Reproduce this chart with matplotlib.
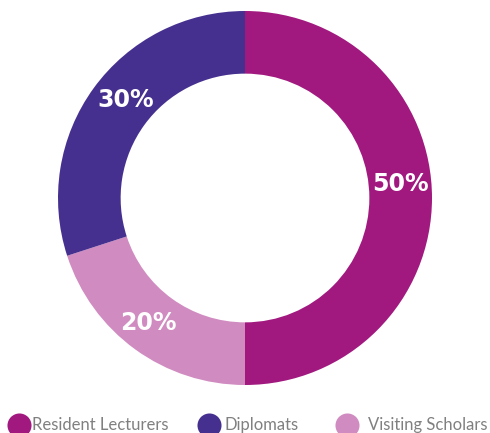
import numpy as np
import matplotlib
matplotlib.use("Agg")
import matplotlib.pyplot as plt

categories = ['Resident Lecturers', 'Diplomats', 'Visiting Scholars']
shares = [50, 30, 20]
colors = ['#A1187F', '#46308F', '#D08BC0']

# pie order: resident (clockwise from top), then visiting, then diplomats
order = [0, 2, 1]

W, H = 490, 433
fig = plt.figure(figsize=(W / 100, H / 100), dpi=100)

cx, cy, r = 245, 198, 187
ax = fig.add_axes([(cx - r) / W, (H - cy - r) / H, 2 * r / W, 2 * r / H])
vals = [shares[i] for i in order]
cols = [colors[i] for i in order]
wedges, _ = ax.pie(vals, colors=cols, startangle=90, counterclock=False,
                   radius=1, wedgeprops=dict(width=0.335, linewidth=0))
ax.set_xlim(-1, 1)
ax.set_ylim(-1, 1)
ax.set_aspect('equal')
ax.axis('off')

label_offsets = {0: 6, 2: -2, 1: -4}
for w, i in zip(wedges, order):
    mid = np.deg2rad((w.theta1 + w.theta2) / 2 + label_offsets[i])
    rr = 0.835
    ax.text(rr * np.cos(mid), rr * np.sin(mid) - 0.01, f'{shares[i]}%',
            ha='center', va='center', color='white', fontsize=17,
            fontweight='bold', family=['DejaVu Sans'])

# legend row at the bottom
lax = fig.add_axes([0, 0, 1, 1])
lax.set_xlim(0, W)
lax.set_ylim(H, 0)
lax.axis('off')
legend_x = [19, 209, 347]
text_x = [32, 224, 368]
for i, name in enumerate(categories):
    lax.scatter(legend_x[i], 425, s=300, color=colors[i], linewidths=0, clip_on=False)
    lax.text(text_x[i], 425, name, ha='left', va='center', color='#808080',
             fontsize=12, family=['Lato', 'DejaVu Sans'])

fig.savefig('out.png', dpi=100)
